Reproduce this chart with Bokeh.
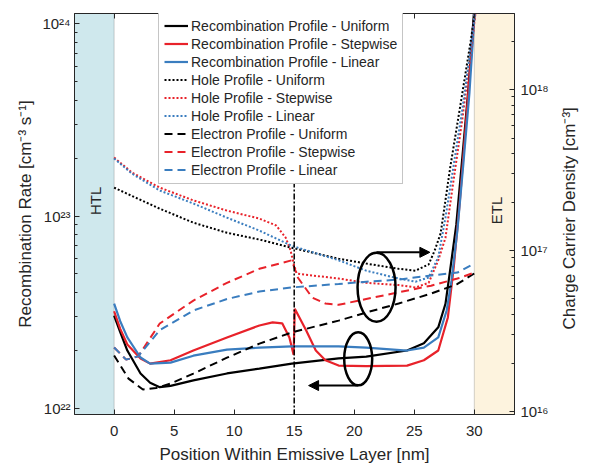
import math
from bokeh.plotting import figure
from bokeh.models import (Range1d, LogScale, LogAxis, LinearAxis, FixedTicker,
                          CustomJSTickFormatter, Legend, LegendItem, BoxAnnotation,
                          Span, Arrow, NormalHead, Label)
from bokeh.embed import file_html
from bokeh.resources import INLINE

FONT = "Liberation Sans"
TXT = "#262626"
RED = "#e8222a"
BLUE = "#3a7dbf"
BLACK = "#000000"

# ---------------- data ----------------
# Recombination rate [cm^-3 s^-1]  (left axis)
x_rec_uniform = [0, 0.5, 1.1, 2.2, 3.0, 3.8, 4.7, 6.6, 9.4, 12.1, 14.8, 18.7, 21.0, 24.4, 25.8, 27.0, 27.6, 28.0, 28.5, 29.0, 29.5, 30.0]
rec_uniform = [3.04e22, 2.5e22, 2.0e22, 1.52e22, 1.36e22, 1.29e22, 1.31e22, 1.40e22, 1.52e22, 1.61e22, 1.71e22, 1.82e22, 1.86e22, 2.0e22, 2.18e22, 2.64e22, 3.5e22, 5.3e22, 9.0e22, 2.0e23, 4.5e23, 1.2e24]

x_rec_linear = [0, 0.5, 1.1, 2.2, 3.0, 4.7, 6.6, 9.4, 12.1, 14.8, 18.7, 21.0, 24.4, 25.8, 27.0, 27.7, 28.1, 28.6, 29.1, 29.6, 30.05]
rec_linear = [3.51e22, 2.85e22, 2.34e22, 1.84e22, 1.71e22, 1.73e22, 1.88e22, 2.02e22, 2.07e22, 2.1e22, 2.1e22, 2.07e22, 2.0e22, 2.07e22, 2.34e22, 3.23e22, 4.6e22, 8.5e22, 1.9e23, 4.4e23, 1.2e24]

x_rec_stepwise = [0, 0.5, 1.1, 2.2, 3.0, 4.7, 6.6, 9.4, 12.1, 13.2, 14.0, 14.6, 14.95, 15.05, 15.4, 16.0, 16.8, 17.6, 18.7, 21.0, 24.4, 25.8, 27.0, 27.8, 28.3, 28.8, 29.3, 29.8, 30.1]
rec_stepwise = [3.2e22, 2.6e22, 2.15e22, 1.82e22, 1.71e22, 1.78e22, 2.0e22, 2.34e22, 2.70e22, 2.80e22, 2.77e22, 2.34e22, 1.9e22, 3.3e22, 3.0e22, 2.54e22, 2.0e22, 1.78e22, 1.67e22, 1.66e22, 1.67e22, 1.78e22, 2.0e22, 2.97e22, 5.5e22, 1.2e23, 3.0e23, 7.5e23, 1.3e24]

# Charge carrier density [cm^-3]  (right axis)
x_hole_uniform = [0, 1.5, 3.8, 6.6, 9.4, 12.1, 14.8, 18.7, 21.0, 23.7, 25.1, 26.2, 26.7, 27.2, 28.0, 28.9, 29.7, 30.1]
hole_uniform = [2.46e17, 2.18e17, 1.82e17, 1.49e17, 1.29e17, 1.17e17, 1.04e17, 8.9e16, 8.3e16, 7.7e16, 7.5e16, 8.2e16, 1.0e17, 1.28e17, 3.3e17, 8.5e17, 2.0e18, 3.2e18]

x_hole_linear = [0, 1.5, 3.8, 6.6, 9.4, 12.1, 14.8, 18.7, 21.0, 23.7, 25.1, 26.2, 27.0, 27.6, 28.2, 29.0, 29.7, 30.1]
hole_linear = [3.73e17, 3.0e17, 2.36e17, 1.96e17, 1.60e17, 1.33e17, 1.07e17, 8.7e16, 7.5e16, 6.7e16, 6.4e16, 6.8e16, 9.1e16, 1.6e17, 3.1e17, 7.5e17, 1.8e18, 3.1e18]

x_hole_stepwise = [0, 1.5, 3.8, 6.6, 9.4, 12.1, 13.5, 14.3, 14.7, 14.95, 15.2, 16.5, 18.7, 21.0, 23.7, 25.1, 26.2, 27.0, 27.6, 28.2, 29.0, 29.7, 30.15]
hole_stepwise = [3.78e17, 3.05e17, 2.46e17, 2.05e17, 1.77e17, 1.58e17, 1.43e17, 1.2e17, 1.0e17, 8.3e16, 7.2e16, 7.0e16, 6.7e16, 6.3e16, 6.1e16, 5.9e16, 6.3e16, 8.7e16, 1.2e17, 2.5e17, 6.5e17, 1.7e18, 3.2e18]

x_elec_uniform = [0, 1.2, 2.4, 3.5, 4.7, 6.6, 9.4, 12.1, 14.8, 18.7, 21.0, 23.7, 26.4, 28.6, 30.0]
elec_uniform = [2.23e16, 1.6e16, 1.37e16, 1.4e16, 1.49e16, 1.72e16, 2.16e16, 2.64e16, 3.1e16, 3.67e16, 4.12e16, 4.69e16, 5.4e16, 6.2e16, 7.2e16]

x_elec_linear = [0, 1.0, 2.0, 3.8, 6.6, 9.4, 12.1, 14.8, 18.7, 21.0, 23.7, 26.4, 28.6, 30.0]
elec_linear = [2.5e16, 2.1e16, 2.2e16, 3.2e16, 4.24e16, 5.0e16, 5.56e16, 5.9e16, 6.2e16, 6.4e16, 6.6e16, 7.0e16, 7.3e16, 8.3e16]

x_elec_stepwise = [0, 1.0, 2.0, 3.8, 6.6, 9.4, 12.1, 14.8, 15.3, 16.5, 17.6, 18.7, 21.0, 23.7, 26.4, 28.6, 29.8]
elec_stepwise = [2.5e16, 2.1e16, 2.2e16, 3.52e16, 4.89e16, 6.3e16, 7.7e16, 8.7e16, 6.8e16, 5.1e16, 4.69e16, 4.6e16, 5.0e16, 5.5e16, 6.05e16, 6.7e16, 7.2e16]

# ticks
x_ticks = [0, 5, 10, 15, 20, 25, 30]
rate_ticks = [1e22, 1e23, 1e24]
dens_ticks = [1e16, 1e17, 1e18]
rate_minor = [k * 10.0 ** e for e in (22, 23) for k in range(2, 10)]
dens_minor = [k * 10.0 ** e for e in (15, 16, 17, 18) for k in range(2, 10)]

# annotations (ellipse centres, arrows) in data coordinates
ell_x = [21.86, 20.33]
ell_y = [4.26e22, 1.81e22]
ell_w = [38, 28]
ell_h = [69, 53]
arrow_right = (21.86, 26.3, 6.48e22)
arrow_left = (20.33, 16.2, 1.315e22)

X_RANGE = (-3.3, 33.35)
Y_RANGE = (9.3e21, 1.13e24)
DENS_RANGE = (9.58e15, 2.97e18)

# ---------------- figure ----------------
p = figure(width=591, height=466, output_backend="svg", toolbar_location=None,
           x_range=Range1d(*X_RANGE), y_range=Range1d(*Y_RANGE),
           y_axis_type="log", min_border_left=74, min_border_right=77,
           min_border_top=13, min_border_bottom=52)
p.extra_y_ranges = {"dens": Range1d(*DENS_RANGE)}
p.extra_y_scales = {"dens": LogScale()}
p.xgrid.visible = False
p.ygrid.visible = False
p.outline_line_color = TXT
p.outline_line_width = 1
p.background_fill_color = "white"
p.border_fill_color = "white"

sup_fmt = CustomJSTickFormatter(code="""
const s = {'0':'\u2070','1':'\u00b9','2':'\u00b2','3':'\u00b3','4':'\u2074','5':'\u2075','6':'\u2076','7':'\u2077','8':'\u2078','9':'\u2079','-':'\u207b'};
const e = Math.round(Math.log10(tick));
return '10' + String(e).split('').map(c => s[c]).join('');
""")

def style_axis(ax, label_size="15px"):
    ax.axis_line_color = TXT
    ax.major_tick_line_color = TXT
    ax.minor_tick_line_color = TXT
    ax.major_tick_in = 5
    ax.major_tick_out = 0
    ax.minor_tick_in = 3
    ax.minor_tick_out = 0
    ax.major_label_text_font = FONT
    ax.major_label_text_font_size = label_size
    ax.major_label_text_color = TXT
    ax.axis_label_text_font = FONT
    ax.axis_label_text_font_size = "17px"
    ax.axis_label_text_font_style = "normal"
    ax.axis_label_text_color = TXT

# bottom axis
xa = p.xaxis[0]
xa.ticker = FixedTicker(ticks=x_ticks)
style_axis(xa)
xa.major_label_standoff = 11
xa.axis_label = "Position Within Emissive Layer [nm]"
xa.axis_label_standoff = 6

# top axis: tick marks only (drawn as minor ticks so no labels exist)
ta = LinearAxis(ticker=FixedTicker(ticks=[], minor_ticks=x_ticks))
style_axis(ta)
ta.minor_tick_in = 5
ta.major_label_standoff = 0
p.add_layout(ta, "above")

# left axis
ya = p.yaxis[0]
ya.ticker = FixedTicker(ticks=rate_ticks, minor_ticks=rate_minor)
ya.formatter = sup_fmt
style_axis(ya)
ya.major_label_standoff = 4
ya.axis_label = "Recombination Rate [cm\u207b\u00b3 s\u207b\u00b9]"
ya.axis_label_standoff = 4

# right axis, title reading bottom-to-top
ra = LogAxis(y_range_name="dens", ticker=FixedTicker(ticks=dens_ticks, minor_ticks=dens_minor),
             formatter=sup_fmt)
style_axis(ra)
ra.major_label_standoff = 6
NBSP = "\u00a0"
ra_props = ra.properties()
if "axis_label_orientation" in ra_props and "axis_label_align" in ra_props:
    ra.axis_label_orientation = math.pi / 2
    ra.axis_label_align = "start"
    ra.axis_label = NBSP * 18 + "Charge Carrier Density [cm\u207b\u00b3]"
    ra.axis_label_standoff = 18
else:
    ra.axis_label = "Charge Carrier Density [cm\u207b\u00b3]"
    ra.axis_label_standoff = 8
p.add_layout(ra, "right")

# transport layer bands
p.add_layout(BoxAnnotation(right=0, fill_color="#cfe8ed", fill_alpha=1.0,
                           line_color="#6b6b6b", line_width=1, level="underlay"))
p.add_layout(BoxAnnotation(left=30, fill_color="#fdf3de", fill_alpha=1.0,
                           line_color="#6b6b6b", line_width=1, level="underlay"))

# curves
SOLID_W = 2.2
r_ru = p.line(x_rec_uniform, rec_uniform, line_color=BLACK, line_width=SOLID_W)
r_rs = p.line(x_rec_stepwise, rec_stepwise, line_color=RED, line_width=SOLID_W)
r_rl = p.line(x_rec_linear, rec_linear, line_color=BLUE, line_width=SOLID_W)

DOT = "2 2"
r_hu = p.line(x_hole_uniform, hole_uniform, line_color=BLACK, line_width=2, line_dash=DOT, y_range_name="dens")
r_hs = p.line(x_hole_stepwise, hole_stepwise, line_color=RED, line_width=2, line_dash=DOT, y_range_name="dens")
r_hl = p.line(x_hole_linear, hole_linear, line_color=BLUE, line_width=2, line_dash=DOT, y_range_name="dens")

DASH = "8 5"
r_eu = p.line(x_elec_uniform, elec_uniform, line_color=BLACK, line_width=2, line_dash=DASH, y_range_name="dens")
r_es = p.line(x_elec_stepwise, elec_stepwise, line_color=RED, line_width=2, line_dash=DASH, y_range_name="dens")
r_el = p.line(x_elec_linear, elec_linear, line_color=BLUE, line_width=2, line_dash=DASH, y_range_name="dens")

# ellipses and arrows
p.ellipse(x=ell_x, y=ell_y, width=ell_w, height=ell_h, width_units="screen",
          height_units="screen", fill_color=None, line_color="black", line_width=2.5)
for (xs, xe, yy) in (arrow_right, arrow_left):
    p.add_layout(Arrow(end=NormalHead(size=10, fill_color="black", line_color="black"),
                       x_start=xs, y_start=yy, x_end=xe, y_end=yy,
                       line_color="black", line_width=2))

# interface line at 15 nm
p.add_layout(Span(location=15, dimension="height", line_color="black",
                  line_width=1.5, line_dash="6 2 2 2"))

# HTL / ETL labels
p.add_layout(Label(x=-1.55, y=1.2e23, text="HTL", angle=math.pi / 2, text_align="center",
                   text_baseline="middle", text_font=FONT, text_font_size="15px", text_color=TXT))
p.add_layout(Label(x=31.85, y=1.07e23, text="ETL", angle=math.pi / 2, text_align="center",
                   text_baseline="middle", text_font=FONT, text_font_size="15px", text_color=TXT))

# legend
items = [
    LegendItem(label="Recombination Profile - Uniform", renderers=[r_ru]),
    LegendItem(label="Recombination Profile - Stepwise", renderers=[r_rs]),
    LegendItem(label="Recombination Profile - Linear", renderers=[r_rl]),
    LegendItem(label="Hole Profile - Uniform", renderers=[r_hu]),
    LegendItem(label="Hole Profile - Stepwise", renderers=[r_hs]),
    LegendItem(label="Hole Profile - Linear", renderers=[r_hl]),
    LegendItem(label="Electron Profile - Uniform", renderers=[r_eu]),
    LegendItem(label="Electron Profile - Stepwise", renderers=[r_es]),
    LegendItem(label="Electron Profile - Linear", renderers=[r_el]),
]
legend = Legend(items=items, location=(84, 230), label_text_font=FONT,
                label_text_font_size="14px", label_text_color=TXT,
                glyph_width=24, glyph_height=17, label_height=17, spacing=1,
                padding=5, margin=0, label_standoff=3,
                border_line_color="#8c8c8c", border_line_width=1,
                background_fill_color="white", background_fill_alpha=1.0)
p.add_layout(legend, "center")

open("out.html", "w").write(file_html(p, INLINE))
